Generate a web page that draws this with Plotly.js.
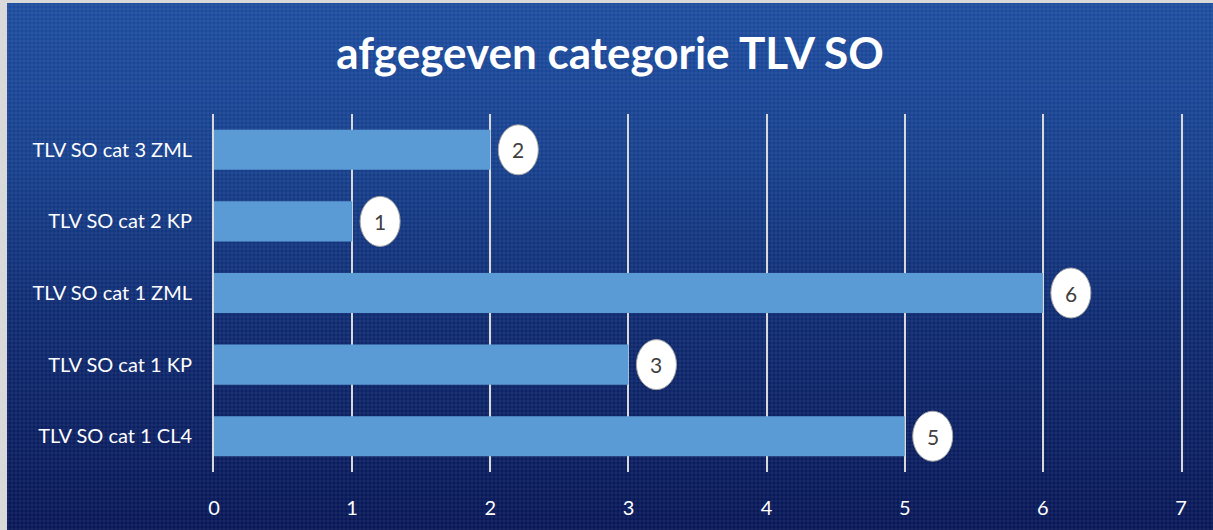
<!DOCTYPE html>
<html>
<head>
<meta charset="utf-8">
<script src="https://cdn.plot.ly/plotly-3.0.1.min.js"></script>
<style>
  html, body { margin: 0; padding: 0; width: 1213px; height: 530px; background: #d9d9d9; overflow: hidden; }
  #chart {
    position: absolute; left: 7px; top: 3px; width: 1206px; height: 527px;
    background:
      repeating-linear-gradient(90deg, rgba(255,255,255,0.035) 0px, rgba(255,255,255,0.035) 2px, rgba(0,0,0,0) 2px, rgba(0,0,0,0) 4px),
      repeating-linear-gradient(0deg, rgba(255,255,255,0.035) 0px, rgba(255,255,255,0.035) 2px, rgba(0,0,0,0) 2px, rgba(0,0,0,0) 4px),
      linear-gradient(180deg, #1c4c9e 0%, #163f8c 30%, #0e2a70 60%, #071656 100%);
  }
</style>
</head>
<body>
<div id="chart"></div>
<script>
// categories bottom -> top, as plotted
const categories = ['TLV SO cat 1 CL4', 'TLV SO cat 1 KP', 'TLV SO cat 1 ZML', 'TLV SO cat 2 KP', 'TLV SO cat 3 ZML'];
const counts = [5, 3, 6, 1, 2];
const xTicks = [0, 1, 2, 3, 4, 5, 6, 7];

const FONT = 'Lato, "Open Sans", sans-serif';

// white ellipse callouts at the end of each bar
const callouts = counts.map((v, i) => ({
    type: 'circle',
    xref: 'x', yref: 'y',
    xsizemode: 'pixel', ysizemode: 'pixel',
    xanchor: v, yanchor: i,
    x0: 8, x1: 48, y0: -25, y1: 25,
    fillcolor: '#ffffff',
    line: { color: '#a6a6a6', width: 1 },
    layer: 'above',
}));

const labels = counts.map((v, i) => ({
    x: v, y: i, xref: 'x', yref: 'y',
    text: String(v),
    showarrow: false,
    xanchor: 'center', xshift: 28,
    font: { family: FONT, size: 21, color: '#404040' },
}));

Plotly.newPlot('chart', [
    {
        y: categories,
        x: counts,
        type: 'bar',
        orientation: 'h',
        marker: { color: '#5b9bd5' },
        width: 0.56,
        hoverinfo: 'skip',
    },
], {
    title: {
        text: 'afgegeven categorie TLV SO',
        font: { family: FONT, size: 44, color: '#ffffff', weight: 'bold' },
        x: 0.5, xanchor: 'center',
        y: 0.904, yanchor: 'middle',
    },
    xaxis: {
        range: [0, 7],
        tickvals: xTicks,
        showgrid: true,
        gridcolor: '#d9d9d9',
        gridwidth: 2,
        zeroline: false,
        showline: false,
        ticks: '',
        ticklabelstandoff: 22,
        tickfont: { family: FONT, size: 20, color: '#ffffff' },
        fixedrange: true,
    },
    yaxis: {
        type: 'category',
        categoryorder: 'array',
        categoryarray: categories,
        showgrid: false,
        zeroline: false,
        showline: true,
        mirror: true,
        linecolor: '#d9d9d9',
        linewidth: 2,
        ticks: '',
        ticklabelstandoff: 16,
        tickfont: { family: FONT, size: 20, color: '#ffffff' },
        fixedrange: true,
    },
    shapes: callouts,
    annotations: labels,
    showlegend: false,
    margin: { l: 207, r: 32, t: 111, b: 58 },
    paper_bgcolor: 'rgba(0,0,0,0)',
    plot_bgcolor: 'rgba(0,0,0,0)',
    width: 1206,
    height: 527,
}, { displayModeBar: false, staticPlot: true });
</script>
</body>
</html>
